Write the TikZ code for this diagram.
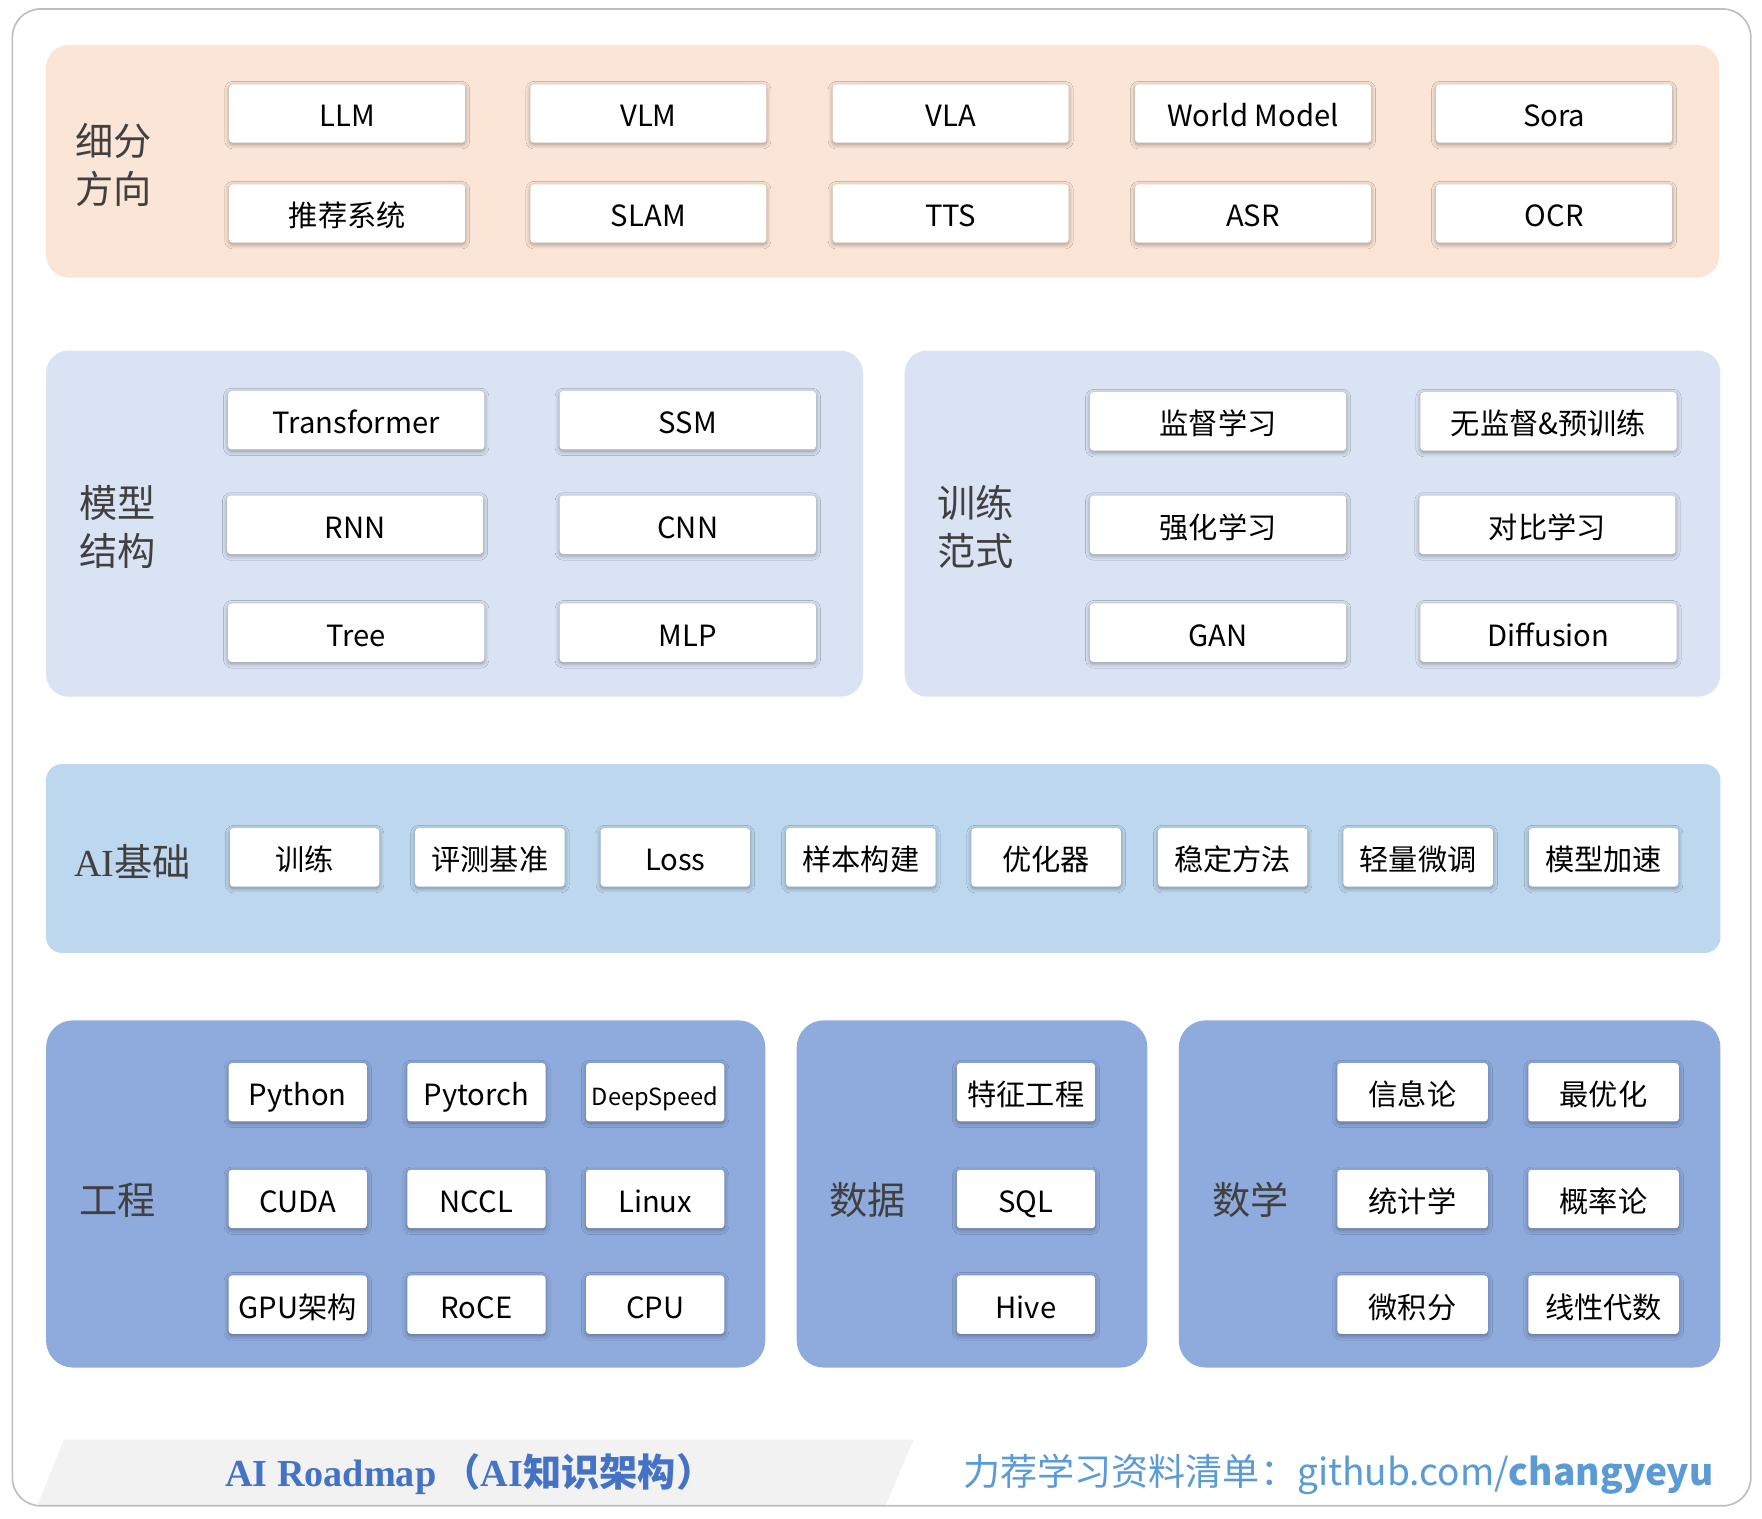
\documentclass[tikz,border=0pt]{standalone}
\usepackage{fontspec}
\setmainfont{Noto Sans CJK SC}
\newfontfamily\romanbold{Liberation Serif}[BoldFont={Liberation Serif Bold}]
\usetikzlibrary{shadows.blur}

\definecolor{outline}{HTML}{BFBFBF}
\definecolor{peach}{HTML}{FBE5D6}
\definecolor{paleblue}{HTML}{DAE3F3}
\definecolor{skyblue}{HTML}{BDD7EE}
\definecolor{midblue}{HTML}{8FAADC}
\definecolor{labelgray}{HTML}{404040}
\definecolor{titleblue}{HTML}{4472C4}
\definecolor{linkblue}{HTML}{5B9BD5}
\definecolor{ribbon}{HTML}{F2F2F2}

\tikzset{
    band/.style={rounded corners=20pt},
    itembox/.style={fill=white, rounded corners=3pt, inner sep=0pt,
        minimum height=52pt, text height=26pt, text depth=2pt,
        font=\fontsize{26}{26}\selectfont,
        blur shadow={shadow xshift=0pt, shadow yshift=-1.5pt,
            shadow blur radius=4pt, shadow blur steps=10, shadow opacity=35}},
    grouplabel/.style={text=labelgray, align=left, inner sep=0pt,
        font=\fontsize{34}{43}\selectfont},
}

\begin{document}
\begin{tikzpicture}[x=1pt,y=-1pt]
        \useasboundingbox (0,0) rectangle (1568,1351);
        % Draw footer ribbon and frame
        \fill [ribbon] (33,1340) -- (57,1281) -- (813,1281) -- (788,1340) -- cycle;
        \draw [outline, line width=1.5pt, rounded corners=25pt] (11,8) rectangle (1558,1340);
        % Draw bands
        \fill [band, peach] (41,40) rectangle (1530,247);
        \fill [band, paleblue] (41,312) rectangle (768,620);
        \fill [band, paleblue] (805,312) rectangle (1531,620);
        \fill [band, skyblue, rounded corners=14pt] (41,680) rectangle (1531,848);
        \fill [band, midblue, rounded corners=24pt] (41,908) rectangle (681,1217);
        \fill [band, midblue, rounded corners=24pt] (709,908) rectangle (1021,1217);
        \fill [band, midblue, rounded corners=24pt] (1049,908) rectangle (1531,1217);
        % Draw group labels
        \node [grouplabel] (dirlabel) at (101,147) {细分\\方向};
        \node [grouplabel] (archlabel) at (105,469) {模型\\结构};
        \node [grouplabel] (trainlabel) at (868,469) {训练\\范式};
        \node [grouplabel] (baselabel) at (118,767) {{\romanbold\mdseries AI}基础};
        \node [grouplabel] (englabel) at (105,1068) {工程};
        \node [grouplabel] (datalabel) at (772,1068) {数据};
        \node [grouplabel] (mathlabel) at (1113,1068) {数学};
        % Directions
        \foreach \x/\i in {309/1, 577/2, 846/3, 1115/4, 1383/5} {
            \foreach \y/\j/\name in {101/1/{LLM,VLM,VLA,World Model,Sora}, 190/2/{推荐系统,SLAM,TTS,ASR,OCR}} {
                \foreach \t [count=\k] in \name {
                    \ifnum\k=\i
                        \node [itembox, minimum width=210pt] (dir-\j-\i) at (\x,\y) {\t};
                    \fi
                }
            }
        }
        % Model architectures
        \foreach \x/\y/\t/\n in {317/374/Transformer/1, 612/374/SSM/2, 316/467/RNN/3,
                                 612/467/CNN/4, 317/563/Tree/5, 612/563/MLP/6} {
            \node [itembox, minimum width=228pt] (arch-\n) at (\x,\y) {\t};
        }
        % Training paradigms
        \foreach \x/\y/\t/\n in {1084/375/监督学习/1, 1378/375/无监督\&预训练/2, 1084/467/强化学习/3,
                                 1377/467/对比学习/4, 1084/563/GAN/5, 1378/563/Diffusion/6} {
            \node [itembox, minimum width=228pt] (train-\n) at (\x,\y) {\t};
        }
        % AI basics
        \foreach \x/\t/\n in {271/训练/1, 436/评测基准/2, 601/Loss/3, 766/样本构建/4,
                              931/优化器/5, 1097/稳定方法/6, 1262/轻量微调/7, 1427/模型加速/8} {
            \node [itembox, minimum width=133pt] (base-\n) at (\x,763) {\t};
        }
        % Engineering
        \foreach \x/\y/\t/\n in {265/972/Python/1, 424/972/Pytorch/2, 583/972/{\fontsize{21}{21}\selectfont DeepSpeed}/3,
                                 265/1067/CUDA/4, 424/1067/NCCL/5, 583/1067/Linux/6,
                                 265/1161/GPU架构/7, 424/1161/RoCE/8, 583/1161/CPU/9} {
            \node [itembox, minimum width=123pt] (eng-\n) at (\x,\y) {\t};
        }
        % Data
        \foreach \y/\t/\n in {972/特征工程/1, 1067/SQL/2, 1161/Hive/3} {
            \node [itembox, minimum width=123pt] (data-\n) at (913,\y) {\t};
        }
        % Maths
        \foreach \x/\y/\t/\n in {1257/972/信息论/1, 1427/972/最优化/2, 1257/1067/统计学/3,
                                 1427/1067/概率论/4, 1257/1161/微积分/5, 1427/1161/线性代数/6} {
            \node [itembox, minimum width=134pt] (math-\n) at (\x,\y) {\t};
        }
        % Footer texts
        \node [text=titleblue, inner sep=0pt, font=\fontsize{34}{34}\selectfont\bfseries] (title) at (418,1312)
            {{\romanbold AI Roadmap}\,（{\romanbold AI}知识架构）};
        \node [text=linkblue, inner sep=0pt, anchor=east, font=\fontsize{33}{33}\selectfont] (link) at (1525,1312)
            {力荐学习资料清单：github.com/\textbf{changyeyu}};
\end{tikzpicture}
\end{document}
